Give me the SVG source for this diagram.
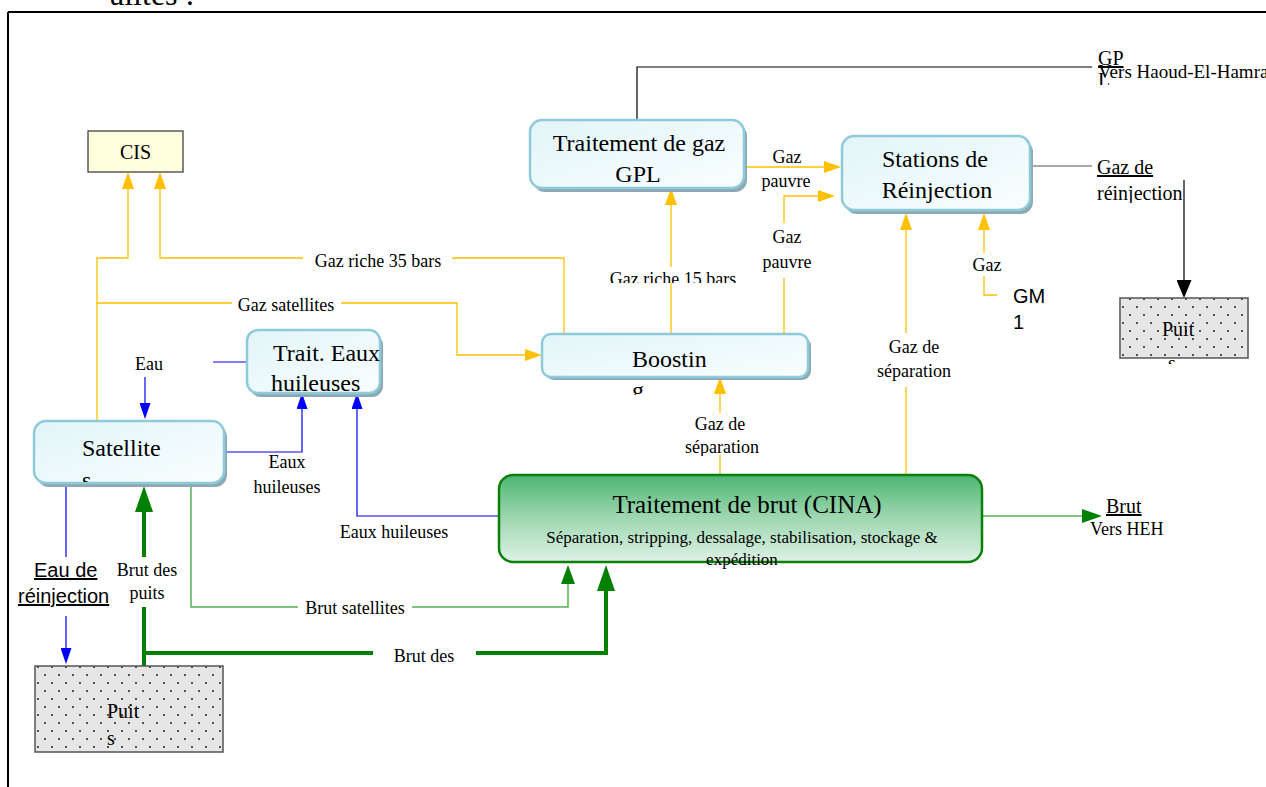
<svg xmlns="http://www.w3.org/2000/svg" width="1266" height="787" viewBox="0 0 1266 787">
<style>
.t{font-family:"Liberation Serif","Times New Roman",serif;fill:#000}
.s{font-family:"Liberation Sans",Arial,sans-serif;fill:#000}
.n{font-size:24px}
.l{font-size:18px}
.u{font-size:20px;text-decoration:underline}
.box{fill:url(#gB);stroke:#8ECAD9;stroke-width:2.5}
.sh{fill:#8DA9B3}
.well{fill:url(#dots);stroke:#555;stroke-width:1.5}
.y{fill:none;stroke:#FFC000;stroke-width:1.3}
.b{fill:none;stroke:#0000FF;stroke-width:1.2}
.gk{fill:none;stroke:#008000;stroke-width:4}
.gt{fill:none;stroke:#55B055;stroke-width:1.5}
.k{fill:none;stroke:#000;stroke-width:1.2}
</style>
<defs>
<linearGradient id="gB" x1="0" y1="0" x2="1" y2="1"><stop offset="0" stop-color="#E2F5F8"/><stop offset="1" stop-color="#F9FEFF"/></linearGradient>
<linearGradient id="gG" x1="0" y1="0" x2="0" y2="1"><stop offset="0" stop-color="#4CB572"/><stop offset="0.5" stop-color="#A0D8B2"/><stop offset="1" stop-color="#DDF1E5"/></linearGradient>
<pattern id="dots" width="14" height="16" patternUnits="userSpaceOnUse">
<rect width="14" height="16" fill="#E6E6E6"/>
<circle cx="3" cy="3" r="0.95" fill="#111"/>
<circle cx="10" cy="11" r="0.95" fill="#111"/>
</pattern>
<marker id="aY" markerUnits="userSpaceOnUse" viewBox="0 0 17 12" markerWidth="17" markerHeight="12" refX="0" refY="6" orient="auto"><path d="M0,0 L17,6 L0,12z" fill="#FFC000"/></marker>
<marker id="aB" markerUnits="userSpaceOnUse" viewBox="0 0 16 11" markerWidth="16" markerHeight="11" refX="0" refY="5.5" orient="auto"><path d="M0,0 L16,5.5 L0,11z" fill="#0000FF"/></marker>
<marker id="aGL" markerUnits="userSpaceOnUse" viewBox="0 0 26 18" markerWidth="26" markerHeight="18" refX="0" refY="9" orient="auto"><path d="M0,0 L26,9 L0,18z" fill="#008000"/></marker>
<marker id="aGS" markerUnits="userSpaceOnUse" viewBox="0 0 19 14" markerWidth="19" markerHeight="14" refX="0" refY="7" orient="auto"><path d="M0,0 L19,7 L0,14z" fill="#008000"/></marker>
<marker id="aGO" markerUnits="userSpaceOnUse" viewBox="0 0 20 14" markerWidth="20" markerHeight="14" refX="0" refY="7" orient="auto"><path d="M0,0 L20,7 L0,14z" fill="#008000"/></marker>
<marker id="aK" markerUnits="userSpaceOnUse" viewBox="0 0 18 15" markerWidth="18" markerHeight="15" refX="0" refY="7.5" orient="auto"><path d="M0,0 L18,7.5 L0,15z" fill="#000"/></marker>
<clipPath id="cSat"><rect x="0" y="0" width="1266" height="482"/></clipPath>
<clipPath id="cBoo"><rect x="0" y="0" width="1266" height="395"/></clipPath>
<clipPath id="c15"><rect x="0" y="0" width="1266" height="283"/></clipPath>
<clipPath id="cSep"><rect x="0" y="0" width="1266" height="456"/></clipPath>
<clipPath id="cRei"><rect x="0" y="0" width="1266" height="203"/></clipPath>
<clipPath id="cGPL"><rect x="0" y="0" width="1266" height="85"/></clipPath>
<clipPath id="cPR"><rect x="0" y="0" width="1266" height="364"/></clipPath>
</defs>
<rect width="1266" height="787" fill="#fff"/>
<text class="t" x="110" y="5" font-size="32">alités :</text>
<path d="M8,12 H1266 M8,12 V787" fill="none" stroke="#000" stroke-width="2"/>

<g id="connectors">
<path class="y" d="M97,421 V258 H128 V189" marker-end="url(#aY)"/>
<path class="y" d="M97,303 H232 M341,303 H457 V355 H525" marker-end="url(#aY)"/>
<path class="y" d="M564,334 V258 H452 M303,258 H160 V189" marker-end="url(#aY)"/>
<path class="y" d="M671,334 V283 M671,267 V205" marker-end="url(#aY)"/>
<path class="y" d="M784,334 V278 M784,223 V196 H818" marker-end="url(#aY)"/>
<path class="y" d="M746,167 H824" marker-end="url(#aY)"/>
<path class="y" d="M720,475 V455 M720,413 V394" marker-end="url(#aY)"/>
<path class="y" d="M906,475 V387 M906,333 V230" marker-end="url(#aY)"/>
<path class="y" d="M997,295 H984 V276 M984,253 V230" marker-end="url(#aY)"/>
<path class="b" d="M213,362 H247"/>
<path class="b" d="M145,377 V403" marker-end="url(#aB)"/>
<path class="b" d="M225,452 H302 V409" marker-end="url(#aB)"/>
<path class="b" d="M499,516 H357 V409" marker-end="url(#aB)"/>
<path class="b" d="M66,486 V557 M66,616 V648" marker-end="url(#aB)"/>
<path class="gk" d="M144,666 V607 M144,557 V512" marker-end="url(#aGL)"/>
<path class="gk" d="M144,653 H373 M476,653 H606 V591" marker-end="url(#aGL)"/>
<path class="gt" d="M191,486 V607 H298 M412,607 H568 V584" marker-end="url(#aGS)"/>
<path class="gt" d="M982,516 H1082" marker-end="url(#aGO)"/>
<path class="k" d="M637,120 V67 H1092"/>
<path d="M1032,166 H1092" fill="none" stroke="#555" stroke-width="1.2"/>
<path class="k" d="M1184,180 V280" marker-end="url(#aK)"/>
<text class="t l" x="378" y="267" text-anchor="middle">Gaz riche 35 bars</text>
<text class="t l" x="286" y="311" text-anchor="middle">Gaz satellites</text>
<text class="t l" x="673" y="285" text-anchor="middle" clip-path="url(#c15)">Gaz riche 15 bars</text>
<text class="t l" x="787" y="163" text-anchor="middle">Gaz</text>
<text class="t l" x="786" y="187" text-anchor="middle">pauvre</text>
<text class="t l" x="787" y="243" text-anchor="middle">Gaz</text>
<text class="t l" x="787" y="268" text-anchor="middle">pauvre</text>
<text class="t l" x="720" y="430" text-anchor="middle">Gaz de</text>
<text class="t l" x="722" y="453" text-anchor="middle" clip-path="url(#cSep)">séparation</text>
<text class="t l" x="914" y="353" text-anchor="middle">Gaz de</text>
<text class="t l" x="914" y="377" text-anchor="middle">séparation</text>
<text class="t l" x="987" y="271" text-anchor="middle">Gaz</text>
<text class="t l" x="149" y="370" text-anchor="middle">Eau</text>
<text class="t l" x="287" y="468" text-anchor="middle">Eaux</text>
<text class="t l" x="287" y="493" text-anchor="middle">huileuses</text>
<text class="t l" x="394" y="538" text-anchor="middle">Eaux huileuses</text>
<text class="s" x="34" y="577" font-size="20" text-decoration="underline">Eau de</text>
<text class="s" x="18" y="603" font-size="20" text-decoration="underline">réinjection</text>
<text class="t l" x="147" y="576" text-anchor="middle">Brut des</text>
<text class="t l" x="147" y="599" text-anchor="middle">puits</text>
<text class="t l" x="355" y="614" text-anchor="middle">Brut satellites</text>
<text class="t l" x="424" y="662" text-anchor="middle">Brut des</text>
<text class="t u" x="1106" y="513">Brut</text>
<text class="t l" x="1090" y="535">Vers HEH</text>
<text class="t u" x="1098" y="65">GP</text>
<text class="t" x="1098" y="87" font-size="20" clip-path="url(#cGPL)">L</text>
<text class="t" x="1098" y="78" font-size="19">Vers Haoud-El-Hamra</text>
<text class="t u" x="1097" y="174">Gaz de</text>
<text class="t" x="1097" y="200" font-size="20" clip-path="url(#cRei)">réinjection</text>
<text class="s" x="1013" y="303" font-size="20">GM</text>
<text class="s" x="1013" y="329" font-size="20">1</text>
</g>

<g id="cis">
<rect x="88" y="131" width="95" height="41" fill="#FFFFDD" stroke="#333" stroke-width="1.2"/>
<text class="t" x="135.5" y="159" font-size="20" text-anchor="middle">CIS</text>
</g>

<g id="gpl">
<rect class="sh" x="533" y="124" width="214" height="68" rx="12"/>
<rect class="box" x="530" y="120" width="214" height="68" rx="12"/>
<text class="t n" x="639" y="151" text-anchor="middle">Traitement de gaz</text>
<text class="t n" x="638" y="182" text-anchor="middle">GPL</text>
</g>

<g id="stations">
<rect class="sh" x="845" y="140" width="188" height="74" rx="12"/>
<rect class="box" x="842" y="136" width="188" height="74" rx="12"/>
<text class="t n" x="935" y="167" text-anchor="middle">Stations de</text>
<text class="t n" x="937" y="198" text-anchor="middle">Réinjection</text>
</g>

<g id="trait-eaux">
<rect class="sh" x="250" y="334" width="133" height="63" rx="11"/>
<rect class="box" x="247" y="330" width="133" height="63" rx="11"/>
<text class="t n" x="273" y="361">Trait. Eaux</text>
<text class="t n" x="271" y="391">huileuses</text>
</g>

<g id="satellites">
<rect class="sh" x="37" y="425" width="190" height="62" rx="12"/>
<rect class="box" x="34" y="421" width="190" height="62" rx="12"/>
<text class="t n" x="82" y="456">Satellite</text>
<text class="t n" x="82" y="488" clip-path="url(#cSat)">s</text>
</g>

<g id="boosting">
<rect class="sh" x="545" y="337" width="266" height="43" rx="9"/>
<rect class="box" x="542" y="334" width="266" height="43" rx="9"/>
<text class="t n" x="632" y="367">Boostin</text>
<text class="t n" x="632" y="398" clip-path="url(#cBoo)">g</text>
</g>

<g id="cina">
<rect x="499" y="475" width="483" height="87" rx="14" fill="url(#gG)" stroke="#0A7F0A" stroke-width="2.5"/>
<text class="t" x="747" y="513" font-size="25" text-anchor="middle">Traitement de brut (CINA)</text>
<text class="t" x="742" y="543" font-size="17" text-anchor="middle">Séparation, stripping, dessalage, stabilisation, stockage &amp;</text>
<text class="t" x="742" y="565" font-size="17" text-anchor="middle">expédition</text>
</g>

<g id="puits-reinjection">
<rect class="well" x="1120" y="298" width="128" height="60"/>
<text class="t" x="1162" y="336" font-size="20">Puit</text>
<text class="t" x="1168" y="370" font-size="20" clip-path="url(#cPR)">s</text>
</g>

<g id="puits">
<rect class="well" x="35" y="666" width="188" height="86"/>
<text class="t" x="107" y="718" font-size="20">Puit</text>
<text class="t" x="107" y="745" font-size="20">s</text>
</g>
</svg>
